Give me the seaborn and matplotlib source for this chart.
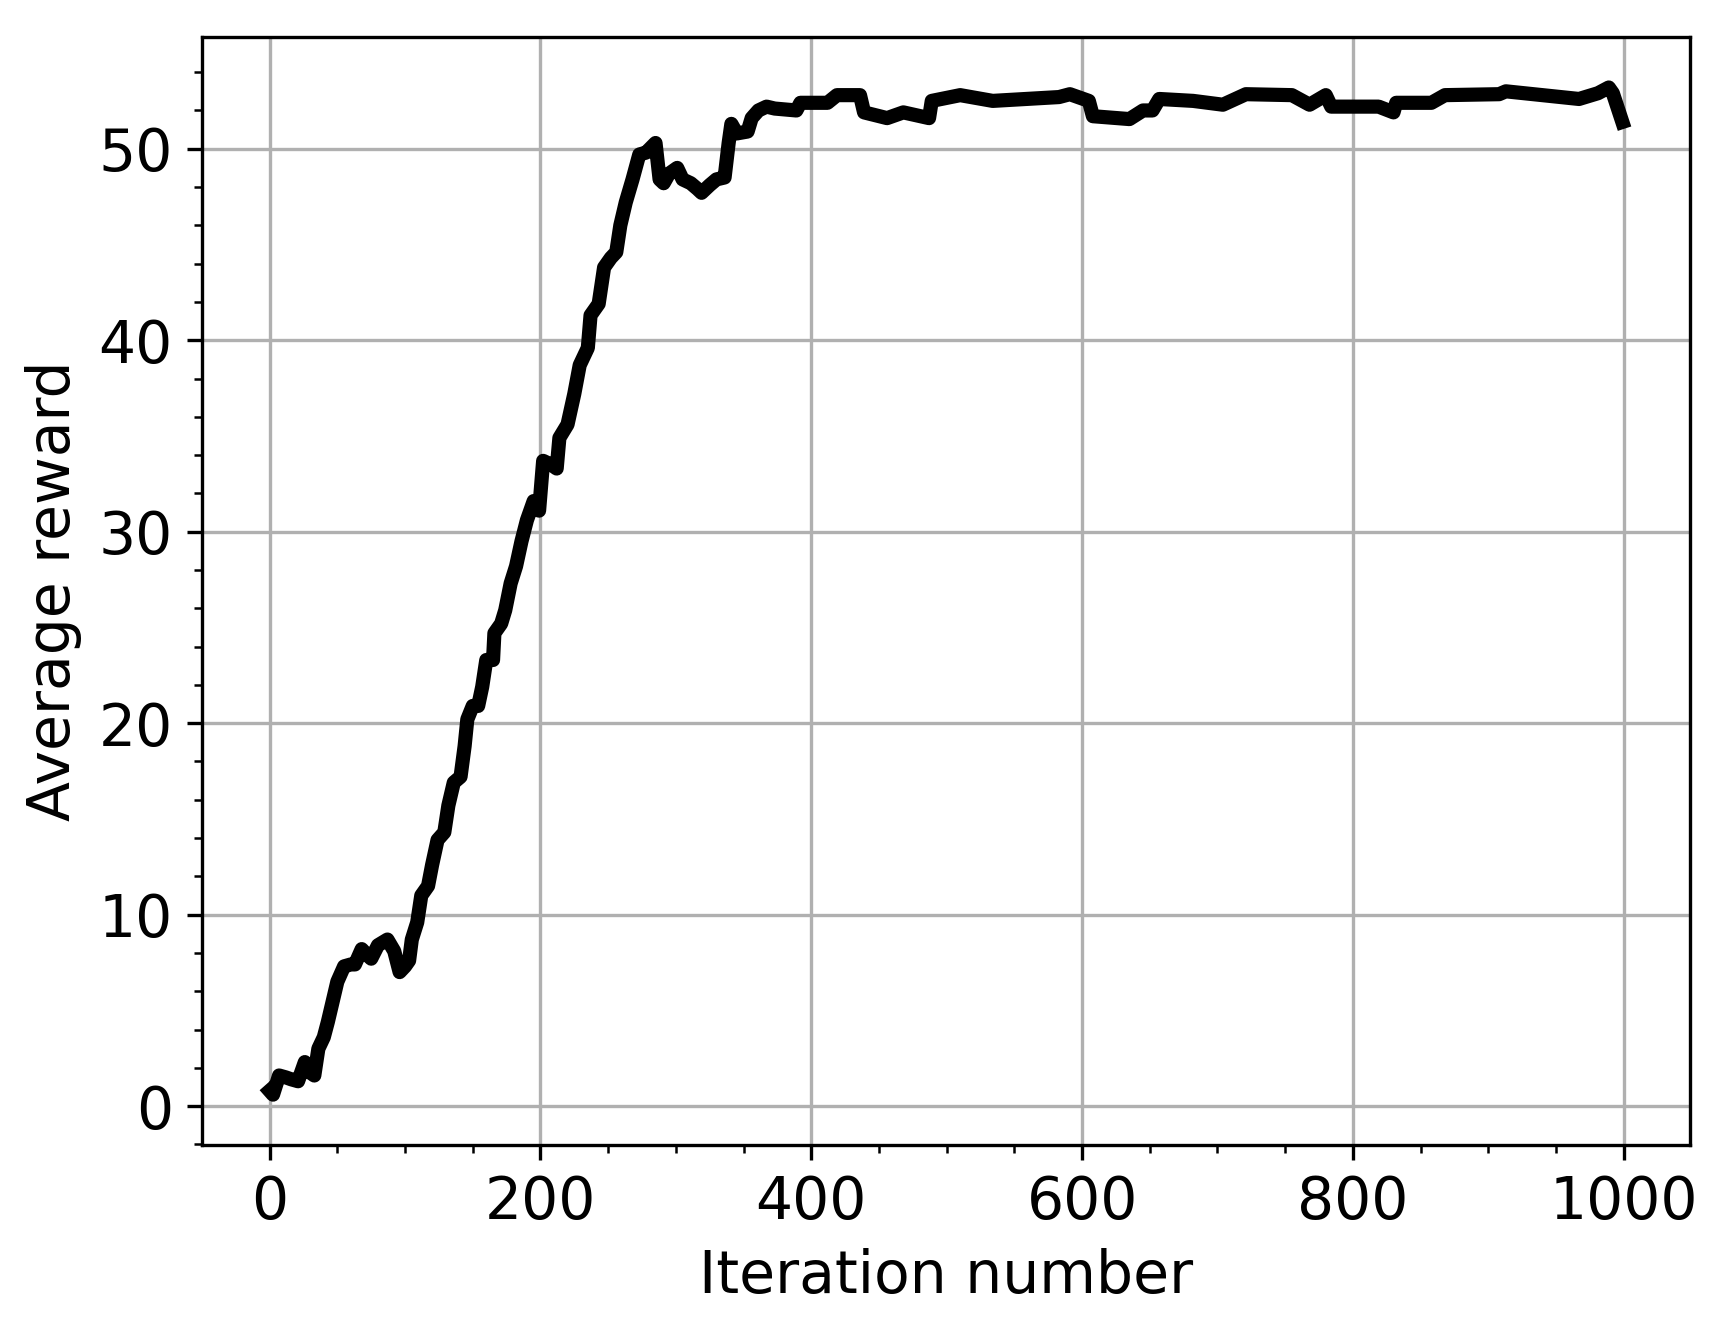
import numpy as np
import pandas as pd
import matplotlib
matplotlib.use("Agg")
import matplotlib.pyplot as plt
import seaborn as sns

# ==========================================
# DATA
# ==========================================

iterations = [
    0, 2.5, 7, 12, 16, 21, 26, 29, 33, 36, 40, 43, 47, 50, 55, 60, 63, 68, 72, 75,
    80, 87, 92, 96, 100, 103, 105, 109, 112, 117, 120, 124, 129, 132, 136, 141,
    144, 146, 150, 154, 157, 160, 165, 166, 171, 174, 178, 182, 186, 190, 195,
    199, 202, 208, 212, 214, 220, 225, 229, 235, 237, 243, 247, 252, 256, 259,
    263, 268, 273, 278, 285, 288, 291, 295, 301, 305, 311, 316, 319, 325, 330,
    336, 339, 341, 345, 353, 356, 361, 367, 373, 389, 392, 412, 419, 436, 439,
    456, 468, 487, 489, 510, 534, 583, 591, 605, 608, 635, 645, 652, 657, 682,
    704, 721, 755, 768, 780, 784, 802, 819, 830, 832, 858, 868, 908, 913, 967,
    981, 989, 992, 999,
]

avg_reward = [
    0.8, 0.6, 1.6, 1.5, 1.4, 1.3, 2.3, 1.8, 1.6, 3.0, 3.6, 4.4, 5.6, 6.5, 7.3, 7.4,
    7.4, 8.2, 7.9, 7.7, 8.4, 8.7, 8.1, 7.0, 7.3, 7.6, 8.7, 9.6, 11.0, 11.5, 12.6,
    13.9, 14.3, 15.7, 16.9, 17.2, 18.8, 20.2, 20.9, 20.9, 21.9, 23.3, 23.3, 24.7,
    25.2, 25.9, 27.3, 28.2, 29.5, 30.6, 31.6, 31.1, 33.7, 33.5, 33.3, 34.9, 35.6,
    37.2, 38.7, 39.6, 41.3, 41.9, 43.8, 44.3, 44.6, 46.0, 47.2, 48.4, 49.7, 49.8,
    50.3, 48.4, 48.2, 48.7, 49.0, 48.4, 48.2, 47.9, 47.7, 48.1, 48.4, 48.5, 50.3,
    51.3, 50.8, 50.9, 51.6, 52.0, 52.2, 52.1, 52.0, 52.4, 52.4, 52.8, 52.8, 51.9,
    51.6, 51.9, 51.6, 52.5, 52.8, 52.5, 52.7, 52.85, 52.5, 51.7, 51.55, 52.0, 52.0,
    52.6, 52.5, 52.3, 52.85, 52.8, 52.3, 52.8, 52.2, 52.2, 52.2, 51.9, 52.4, 52.4,
    52.8, 52.85, 53.0, 52.6, 52.9, 53.2, 52.9, 51.4,
]

df = pd.DataFrame({"iteration": iterations, "reward": avg_reward})

# ==========================================
# PLOT
# ==========================================

plt.rcParams["font.family"] = ["DejaVu Sans"]
plt.rcParams["font.size"] = 14

fig, ax = plt.subplots(figsize=(5.74, 4.42), dpi=300)
fig.subplots_adjust(left=0.1173, right=0.9814, bottom=0.1365, top=0.972)

sns.lineplot(data=df, x="iteration", y="reward", color="black",
             linewidth=3.4, ax=ax, estimator=None, sort=False)

ax.minorticks_on()
ax.grid(True, which="major", color="#b0b0b0", linewidth=0.8)
ax.set_axisbelow(True)
ax.set_xlabel("Iteration number", fontsize=14)
ax.set_ylabel("Average reward", fontsize=14)
ax.tick_params(labelsize=14)

fig.savefig("out.png", dpi=300)
